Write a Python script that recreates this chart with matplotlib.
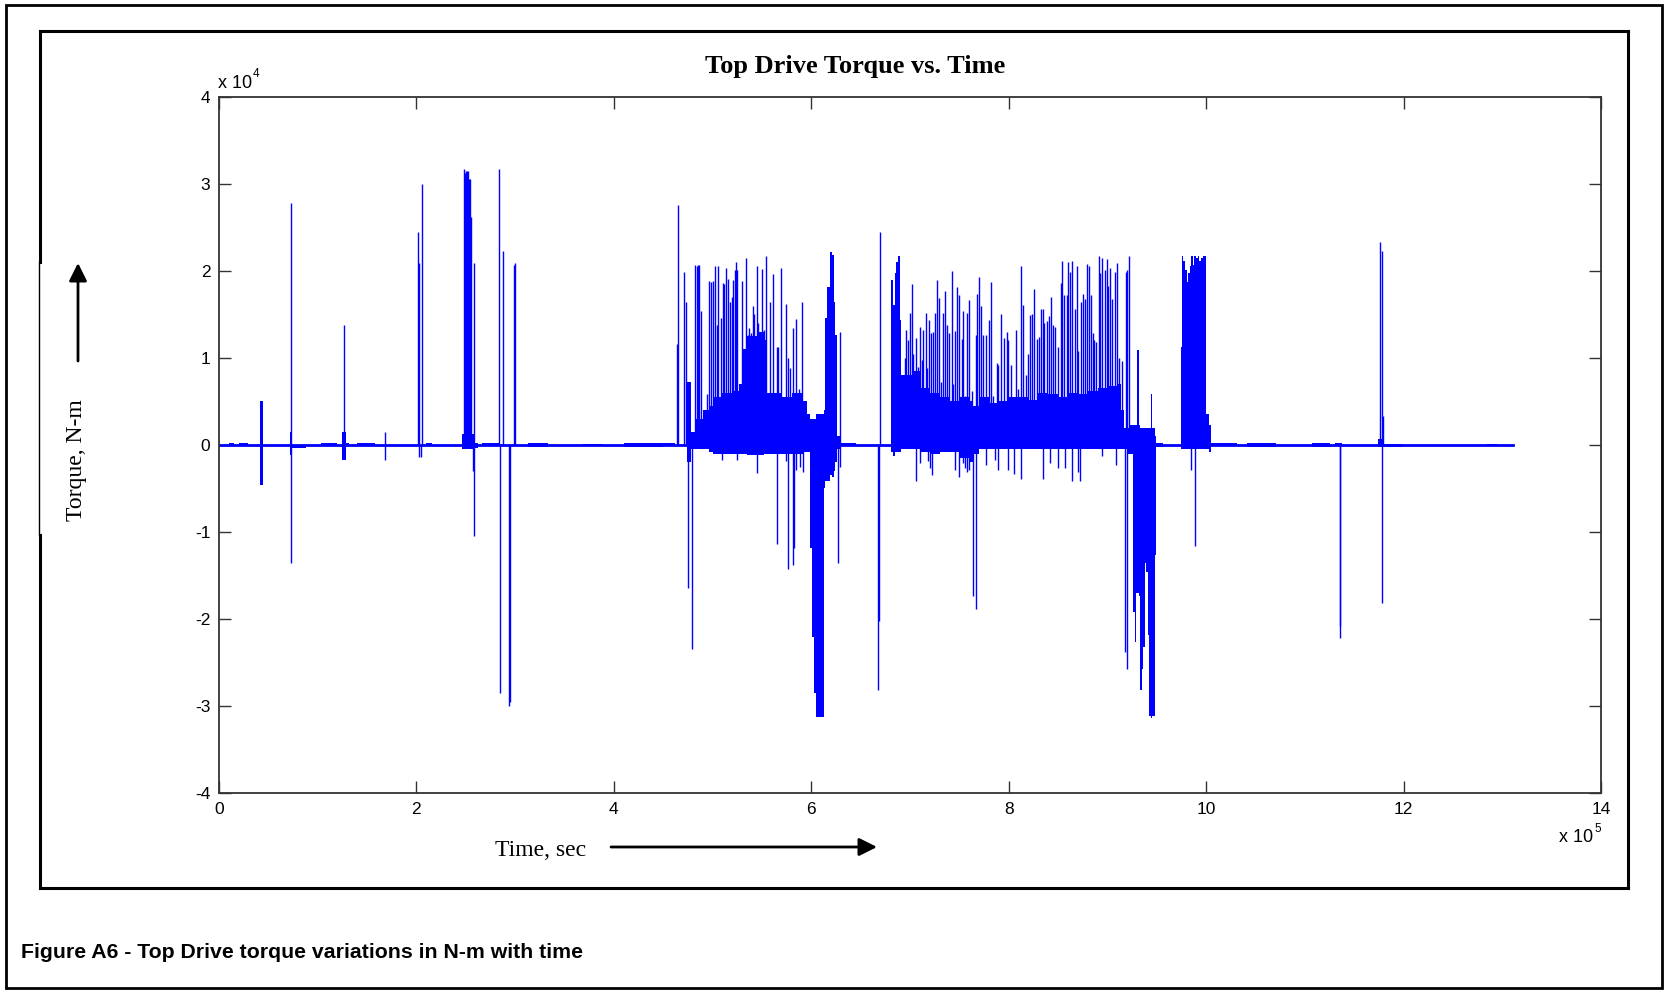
import matplotlib.pyplot as plt
from matplotlib.lines import Line2D
from matplotlib.patches import Rectangle

# values: time in 1e5 s, torque in 1e4 N-m
t_end = 13.11

# dense bursts, drawn as a step envelope (time, upper edge, lower edge)
env_t = [0.00, 0.10, 0.15, 0.20, 0.30, 0.42, 0.45, 0.72, 0.745, 0.78, 0.88,
         1.04, 1.20, 1.25, 1.285, 1.32, 1.40, 1.58, 2.10, 2.16, 2.46, 2.59,
         2.62, 2.67, 2.84, 3.13, 3.33, 3.69, 3.89, 4.10, 4.50, 4.62,
         4.745, 4.78, 4.82, 4.90, 4.96, 5.00, 5.10, 5.20, 5.27, 5.31, 5.35,
         5.45, 5.52, 5.55, 5.70, 5.80, 5.92, 5.96, 5.99, 6.01, 6.027, 6.044,
         6.125, 6.14, 6.16, 6.185, 6.21, 6.23, 6.245, 6.26, 6.30, 6.45,
         6.81, 6.83, 6.845, 6.855, 6.875, 6.90, 6.912, 7.03, 7.10, 7.20,
         7.30, 7.40, 7.50, 7.60, 7.64, 7.70, 7.80, 7.90, 8.00, 8.10, 8.20,
         8.30, 8.40, 8.50, 8.60, 8.70, 8.80, 8.90, 9.00, 9.10, 9.14, 9.165,
         9.20, 9.23, 9.255, 9.275, 9.29, 9.30, 9.32, 9.325, 9.345, 9.36,
         9.375, 9.39, 9.41, 9.42, 9.44, 9.455, 9.48, 9.49, 9.56,
         9.74, 9.75, 9.765, 9.78, 9.80, 9.815, 9.83, 9.85, 9.865, 9.88,
         9.90, 9.915, 9.93, 9.95, 9.965, 9.985, 9.998, 10.025, 10.045,
         10.31, 10.41, 10.71, 11.07, 11.25, 11.30, 11.37, 11.74, 11.80,
         11.99, 12.84, 12.94, 13.11]
env_hi = [0, 0.02, 0, 0.02, 0, 0.51, 0, 0.15, 0, 0, 0,
          0.02, 0, 0.15, 0.02, 0, 0.02, 0, 0.02, 0, 0.13, 0.02,
          0, 0.02, 0, 0.02, 0, 0.015, 0, 0.02, 0.02, 0,
          0.72, 0.15, 0.30, 0.40, 0.45, 0.55, 0.60, 0.62, 0.70, 1.10, 1.25,
          1.30, 1.20, 0.60, 0.55, 0.60, 0.50, 0.35, 0.30, 0.30, 0.30, 0.35,
          0.40, 1.46, 1.81, 2.21, 2.18, 1.64, 1.26, 0.10, 0.02, 0,
          1.89, 1.61, 1.97, 2.10, 2.17, 1.44, 0.80, 0.85, 0.65, 0.60,
          0.55, 0.50, 0.55, 0.50, 0.45, 0.55, 0.48, 0.50, 0.55, 0.55, 0.52,
          0.60, 0.58, 0.55, 0.60, 0.58, 0.62, 0.65, 0.68, 0.70, 0.40, 0.20,
          0.20, 0.23, 0.23, 0.23, 0.23, 1.09, 0.23, 0.20, 0.20, 0.20,
          0.20, 0.20, 0.20, 0.20, 0.58, 0.20, 0.10, 0.02, 0,
          1.12, 2.17, 2.11, 2.01, 1.87, 1.97, 2.05, 2.17, 2.07, 2.17,
          2.15, 2.17, 2.11, 2.15, 2.17, 2.17, 0.36, 0.23, 0.02,
          0, 0.02, 0, 0.02, 0, 0.02, 0, 0.07, 0.015,
          0, 0.015, 0, 0]
env_lo = [0, -0.01, 0, -0.015, 0, -0.46, 0, -0.12, -0.03, -0.04, 0,
          0, 0, -0.17, -0.015, 0, -0.01, 0, -0.015, 0, -0.05, -0.04,
          0, -0.015, 0, -0.02, 0, -0.015, 0, -0.02, -0.015, 0,
          -0.20, -0.05, -0.05, -0.05, -0.08, -0.10, -0.10, -0.10, -0.10, -0.10, -0.12,
          -0.12, -0.10, -0.10, -0.10, -0.10, -0.08, -0.08, -1.18, -2.20, -2.85, -3.12,
          -0.50, -0.41, -0.41, -0.35, -0.37, -0.30, -0.20, -0.05, -0.015, 0,
          -0.08, -0.13, -0.08, -0.08, -0.08, -0.08, -0.05, -0.05, -0.08, -0.10,
          -0.08, -0.08, -0.15, -0.20, -0.10, -0.05, -0.05, -0.05, -0.05, -0.05, -0.05,
          -0.05, -0.05, -0.05, -0.05, -0.05, -0.05, -0.05, -0.05, -0.05, -0.05, -0.05,
          -0.10, -0.10, -1.92, -2.26, -1.70, -1.70, -1.74, -2.81, -2.57, -2.32,
          -1.36, -1.46, -2.18, -3.11, -3.13, -3.11, -1.26, -0.02, 0,
          -0.05, -0.05, -0.05, -0.05, -0.05, -0.05, -0.05, -0.05, -0.05, -0.05,
          -0.05, -0.05, -0.05, -0.05, -0.05, -0.05, -0.05, -0.08, -0.015,
          0, -0.02, 0, -0.02, 0, -0.015, 0, -0.02, -0.02,
          0, -0.015, 0, 0]

# single spikes above zero
up_t = [0.730, 1.265, 1.680, 2.016, 2.025, 2.060, 2.486, 2.492, 2.500, 2.506,
        2.515, 2.525, 2.533, 2.540, 2.548, 2.555, 2.580, 2.837, 2.877, 2.985,
        3.002, 4.637, 4.647, 4.714, 4.728, 4.822, 4.839, 4.856, 4.866, 4.883,
        4.941, 4.967, 4.984, 5.008, 5.025, 5.042, 5.059, 5.082, 5.102, 5.116,
        5.140, 5.157, 5.177, 5.194, 5.211, 5.227, 5.238, 5.251, 5.295, 5.312,
        5.335, 5.356, 5.373, 5.389, 5.406, 5.423, 5.447, 5.464, 5.480, 5.504,
        5.521, 5.545, 5.578, 5.616, 5.649, 5.666, 5.690, 5.744, 5.768, 5.785,
        5.818, 5.845, 5.876, 5.903, 6.291, 6.692,
        6.949, 6.959, 6.976, 7.000, 7.016, 7.033, 7.057, 7.077, 7.101, 7.118,
        7.135, 7.158, 7.175, 7.195, 7.212, 7.229, 7.253, 7.276, 7.293, 7.313,
        7.337, 7.357, 7.378, 7.398, 7.425, 7.438, 7.455, 7.479, 7.499, 7.523,
        7.539, 7.560, 7.577, 7.594, 7.624, 7.668, 7.681, 7.698, 7.718, 7.742,
        7.769, 7.799, 7.820, 7.843, 7.877, 7.894, 7.918, 7.948, 7.978, 7.995,
        8.019, 8.046, 8.069, 8.097, 8.120, 8.147, 8.171, 8.198, 8.218, 8.235,
        8.259, 8.282, 8.306, 8.326, 8.343, 8.360, 8.383, 8.407, 8.427, 8.448,
        8.471, 8.498, 8.525, 8.542, 8.562, 8.586, 8.603, 8.620, 8.643, 8.667,
        8.687, 8.704, 8.728, 8.748, 8.772, 8.795, 8.812, 8.829, 8.849, 8.866,
        8.887, 8.910, 8.927, 8.947, 8.974, 8.991, 9.008, 9.028, 9.048, 9.075,
        9.096, 9.119, 9.143, 9.187, 9.200, 9.217,
        11.759, 11.776, 11.786]
up_v = [2.78, 1.38, 0.15, 2.44, 2.09, 3.00, 3.17, 3.12, 3.12, 3.15,
        3.15, 3.15, 3.05, 3.05, 2.62, 2.62, 2.09, 3.17, 2.23, 2.07,
        2.09, 1.16, 2.75, 1.99, 1.64, 2.07, 2.05, 2.07, 2.07, 1.54,
        0.58, 1.88, 1.87, 1.88, 2.05, 1.38, 2.06, 1.46, 1.86, 1.85,
        2.03, 1.91, 1.64, 1.70, 1.89, 2.01, 2.10, 2.01, 1.88, 1.04,
        2.15, 1.26, 1.34, 1.29, 1.60, 1.50, 2.06, 1.40, 1.24, 2.02,
        1.32, 2.17, 1.64, 1.96, 1.12, 1.12, 2.03, 1.62, 1.00, 0.88,
        1.34, 1.45, 0.64, 1.64, 1.30, 2.44,
        1.00, 1.32, 1.20, 1.52, 1.85, 1.04, 1.23, 0.90, 1.36, 0.98,
        1.32, 1.52, 0.88, 1.44, 1.28, 1.30, 1.52, 1.89, 1.69, 0.72,
        1.52, 1.77, 1.38, 1.28, 2.00, 0.70, 1.31, 1.81, 1.72, 1.22,
        1.54, 0.56, 1.52, 1.67, 0.62, 1.26, 1.73, 1.93, 1.60, 1.26,
        1.26, 1.44, 1.87, 0.56, 0.94, 0.92, 1.50, 1.23, 1.30, 1.21,
        0.92, 0.48, 1.32, 0.64, 2.05, 1.61, 0.80, 1.04, 1.49, 1.50,
        1.79, 1.22, 1.24, 1.56, 1.56, 1.40, 1.42, 1.48, 1.70, 1.38,
        1.36, 1.13, 1.86, 2.11, 1.72, 1.72, 2.10, 1.99, 2.11, 1.56,
        2.05, 1.08, 1.64, 1.73, 1.68, 2.08, 2.05, 1.72, 1.28, 1.20,
        1.18, 2.17, 1.97, 2.15, 2.01, 2.13, 1.83, 2.03, 1.68, 1.99,
        2.09, 1.00, 0.96, 1.99, 2.01, 2.17,
        2.33, 2.23, 0.33]

# single spikes below zero
dn_t = [0.733, 1.682, 2.030, 2.050, 2.570, 2.585, 2.847, 2.940, 2.945,
        4.755, 4.789, 5.099, 5.251, 5.447, 5.649, 5.744, 5.761, 5.811, 5.828,
        5.845, 5.886, 5.920, 6.274, 6.291, 6.679, 6.683,
        7.057, 7.101, 7.185, 7.202, 7.222, 7.455, 7.492, 7.533, 7.556, 7.580,
        7.594, 7.641, 7.664, 7.766, 7.860, 7.894, 7.995, 8.056, 8.120, 8.350,
        8.417, 8.502, 8.569, 8.637, 8.704, 8.721, 8.941, 9.082,
        9.177, 9.194, 9.850, 9.886, 11.354, 11.357, 11.779]
dn_v = [-1.36, -0.17, -0.14, -0.14, -0.30, -1.05, -2.85, -3.00, -2.95,
        -1.64, -2.34, -0.17, -0.17, -0.32, -1.14, -0.19, -1.43, -1.38, -1.18,
        -0.29, -0.25, -0.31, -1.36, -0.25, -2.81, -2.02,
        -0.41, -0.21, -0.19, -0.27, -0.35, -0.29, -0.37, -0.21, -0.27, -0.31,
        -0.29, -1.74, -1.88, -0.23, -0.17, -0.29, -0.29, -0.33, -0.39, -0.39,
        -0.21, -0.27, -0.27, -0.41, -0.31, -0.41, -0.13, -0.23,
        -2.38, -2.57, -0.29, -1.16, -2.22, -2.08, -1.82]

x_ticks = [0, 2, 4, 6, 8, 10, 12, 14]
y_ticks = [-4, -3, -2, -1, 0, 1, 2, 3, 4]

W, H = 1665, 990
blue = '#0000ff'


def fx(px):
    return px / W


def fy(py):
    return 1 - py / H


fig = plt.figure(figsize=(W / 100, H / 100), dpi=100)
ax = fig.add_axes([fx(218.8), fy(793.3), fx(1601.3 - 218.8), (793.3 - 96.6) / H])

ax.fill_between(env_t, env_lo, env_hi, step='post', color=blue, lw=0)
ax.plot([0, t_end], [0, 0], color=blue, lw=2)
ax.vlines(up_t, 0, up_v, color=blue, lw=1)
ax.vlines(dn_t, 0, dn_v, color=blue, lw=1)

ax.set_xlim(0, 14)
ax.set_ylim(-4, 4)
ax.set_xticks(x_ticks)
ax.set_yticks(y_ticks)
ax.set_xticklabels([str(v) for v in x_ticks])
ax.set_yticklabels([str(v) for v in y_ticks])
ax.tick_params(direction='in', length=8.6, width=1, color='#333333',
               top=True, right=True, labelsize=12.5, pad=6)
for lab in ax.get_xticklabels() + ax.get_yticklabels():
    lab.set_family('Liberation Sans')
for sp in ax.spines.values():
    sp.set_linewidth(1.3)
    sp.set_color('#333333')

# MATLAB-like multipliers
fig.text(fx(218), fy(83), 'x 10', fontsize=13, family='Liberation Sans', ha='left', va='center')
fig.text(fx(253), fy(74), '4', fontsize=8.5, family='Liberation Sans', ha='left', va='center')
fig.text(fx(1559), fy(838), 'x 10', fontsize=13, family='Liberation Sans', ha='left', va='center')
fig.text(fx(1594), fy(829), '5', fontsize=8.5, family='Liberation Sans', ha='left', va='center')

fig.text(fx(855), fy(66), 'Top Drive Torque vs. Time', fontsize=19, fontweight='bold',
         family='Liberation Serif', ha='center', va='center')
fig.text(fx(77), fy(460), 'Torque, N-m', fontsize=17, family='Liberation Serif',
         rotation=90, ha='center', va='center')
fig.text(fx(541), fy(850), 'Time, sec', fontsize=17, family='Liberation Serif',
         ha='center', va='center')
fig.text(fx(21), fy(952), 'Figure A6 - Top Drive torque variations in N-m with time',
         fontsize=15.3, fontweight='bold', family='Liberation Sans', ha='left', va='center')

# arrows beside the axis labels
arrow = dict(arrowstyle='-|>', lw=2, color='black', mutation_scale=27, shrinkA=0, shrinkB=0)
ax.annotate('', xy=(fx(78), fy(263)), xytext=(fx(78), fy(361)),
            xycoords='figure fraction', textcoords='figure fraction', arrowprops=arrow)
ax.annotate('', xy=(fx(877), fy(847)), xytext=(fx(611), fy(847)),
            xycoords='figure fraction', textcoords='figure fraction', arrowprops=arrow)

# outer border and inner frame
fig.patches.append(Rectangle((fx(6), fy(988)), fx(1656), (988 - 5) / H, fill=False,
                             lw=2, ec='black', transform=fig.transFigure))
frame = [((40, 31), (1628, 31), 2.2), ((1628, 31), (1628, 888), 2.2),
         ((40, 888), (1628, 888), 2.2), ((40, 31), (40, 262), 2.2),
         ((39, 262), (39, 535), 1.0), ((40, 535), (40, 888), 2.2)]
for (x0, y0), (x1, y1), lw in frame:
    fig.lines.append(Line2D([fx(x0), fx(x1)], [fy(y0), fy(y1)], lw=lw, color='black',
                            transform=fig.transFigure))

fig.savefig('out.png', dpi=100)
